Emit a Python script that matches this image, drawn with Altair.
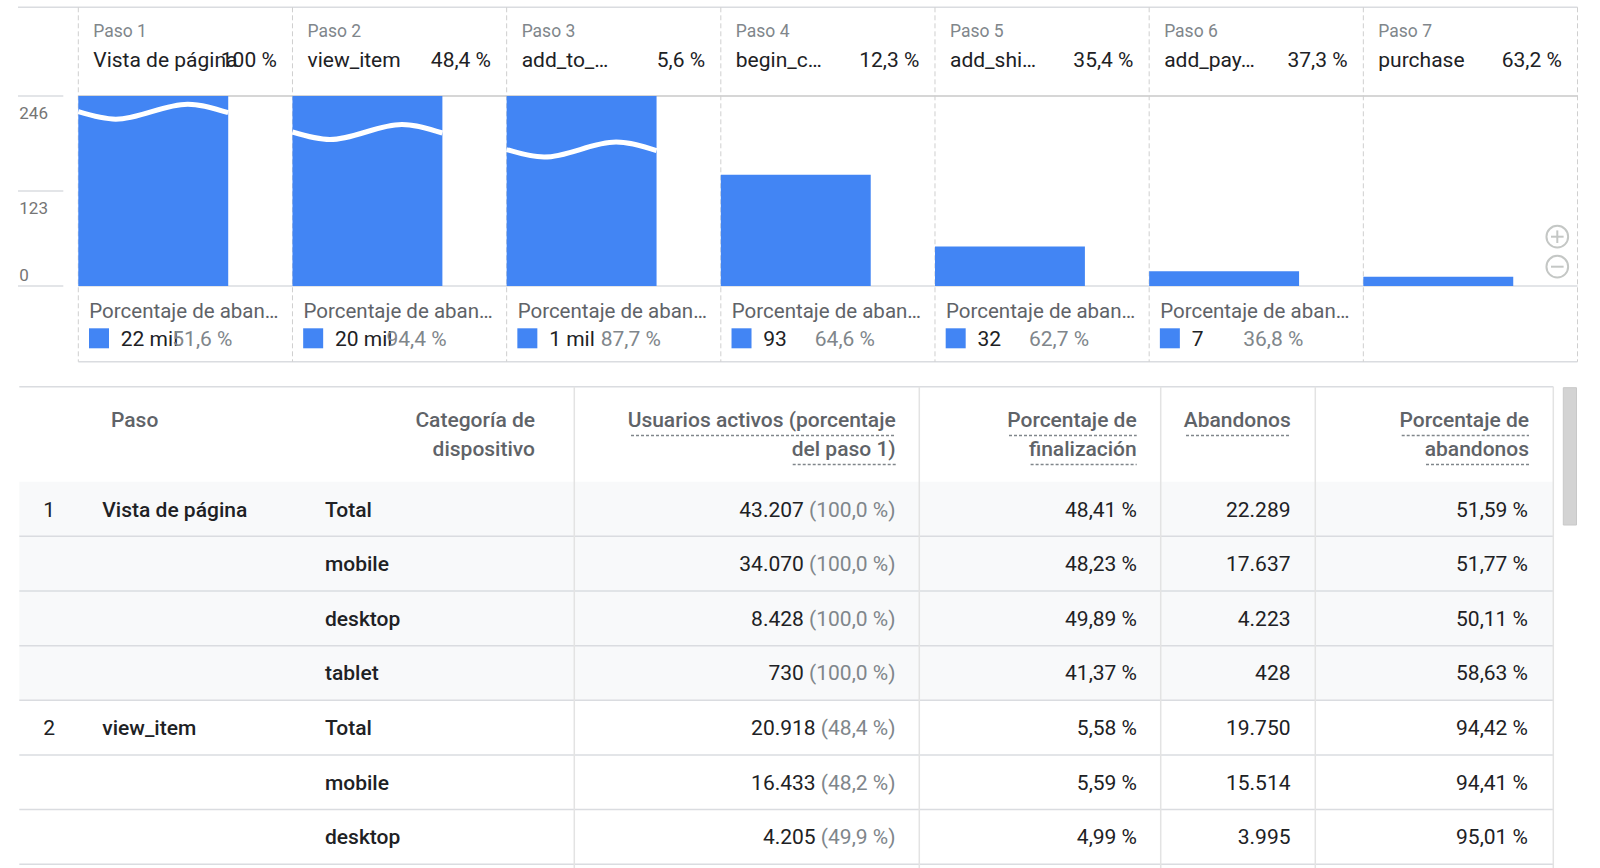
import altair as alt
import pandas as pd

# ---------------- data ----------------
STEP_LABELS = ["Paso 1", "Paso 2", "Paso 3", "Paso 4", "Paso 5", "Paso 6", "Paso 7"]
STEP_NAMES = ["Vista de página", "view_item", "add_to_…", "begin_c…", "add_shi…", "add_pay…", "purchase"]
STEP_COMPLETION = ["100 %", "48,4 %", "5,6 %", "12,3 %", "35,4 %", "37,3 %", "63,2 %"]
STEP_USERS = [43207, 20918, 1168, 144, 51, 19, 12]
ABANDON_COUNT = ["22 mil", "20 mil", "1 mil", "93", "32", "7"]
ABANDON_PCT = ["51,6 %", "94,4 %", "87,7 %", "64,6 %", "62,7 %", "36,8 %"]
FOOTER_LABEL = "Porcentaje de aban…"
Y_TICKS = [0, 123, 246]
BREAK_LEVELS = [225.7, 199.4, 176.7]          # where the axis break is drawn on bars 1-3
WAVE_T = [0.0, 0.25, 0.73, 1.0]               # shape of the break wave along a bar
WAVE_DV = [0.0, -9.7, 9.7, -1.3]

TABLE_STEP_NUM = ["1", "", "", "", "2", "", ""]
TABLE_STEP_NAME = ["Vista de página", "", "", "", "view_item", "", ""]
TABLE_DEVICE = ["Total", "mobile", "desktop", "tablet", "Total", "mobile", "desktop"]
TABLE_USERS = ["43.207", "34.070", "8.428", "730", "20.918", "16.433", "4.205"]
TABLE_USERS_PCT = ["(100,0 %)", "(100,0 %)", "(100,0 %)", "(100,0 %)", "(48,4 %)", "(48,2 %)", "(49,9 %)"]
TABLE_COMPLETION = ["48,41 %", "48,23 %", "49,89 %", "41,37 %", "5,58 %", "5,59 %", "4,99 %"]
TABLE_ABANDONS = ["22.289", "17.637", "4.223", "428", "19.750", "15.514", "3.995"]
TABLE_ABANDON_RATE = ["51,59 %", "51,77 %", "50,11 %", "58,63 %", "94,42 %", "94,41 %", "95,01 %"]
TABLE_STEP_GROUP = [1, 1, 1, 1, 2, 2, 2]

HEADER_PASO = ["Paso"]
HEADER_DEVICE = ["Categoría de", "dispositivo"]
HEADER_USERS = ["Usuarios activos (porcentaje", "del paso 1)"]
HEADER_COMPLETION = ["Porcentaje de", "finalización"]
HEADER_ABANDONS = ["Abandonos"]
HEADER_RATE = ["Porcentaje de", "abandonos"]

# ---------------- style / layout ----------------
W, H = 1600, 868
FONT = "Roboto"
INK = "#202124"
MUTED = "#5f6368"
SOFT = "#80868b"
GRID = "#dadce0"
BLUE = "#4285f4"
ROW_BG = "#f8f9fa"
BAR_FRAC = 0.70
CELL_SIZE = 21

FX = alt.Scale(domain=[0, 7], range=[78.3, 1577.5])
FY = alt.Scale(domain=[0, 246], range=[286, 96], clamp=True)
TY = alt.Scale(domain=[0, 7], range=[481.7, 481.7 + 7 * 54.65])
HY = alt.Scale(domain=[0, 1], range=[421.4, 450.4])

# approximate Roboto advance widths (em) used to place the number left of its "(xx %)" part
CHAR_EM = {**{d: 0.562 for d in "0123456789"}, ",": 0.197, ".": 0.263, "(": 0.342,
           ")": 0.348, "%": 0.733, " ": 0.248}


def text_width(s, size):
    return sum(CHAR_EM.get(c, 0.56) for c in s) * size


steps = pd.DataFrame({"i": list(range(7)), "label": STEP_LABELS, "name": STEP_NAMES,
                      "pct": STEP_COMPLETION, "users": STEP_USERS})
steps["i_end"] = steps["i"] + BAR_FRAC
steps["zero"] = 0

drops = pd.DataFrame({"i": list(range(len(ABANDON_COUNT))), "count": ABANDON_COUNT,
                      "pct": ABANDON_PCT, "label": [FOOTER_LABEL] * len(ABANDON_COUNT)})

wave_rows = []
for s, lvl in enumerate(BREAK_LEVELS):
    for t, dv in zip(WAVE_T, WAVE_DV):
        wave_rows.append({"s": s, "x": s + t * BAR_FRAC, "v": lvl + dv})
waves = pd.DataFrame(wave_rows)

ticks = pd.DataFrame({"t": Y_TICKS})
panels = pd.DataFrame({"i": list(range(8))})
one = pd.DataFrame({"k": [0]})

USERS_RIGHT = 895.5
table = pd.DataFrame({"num": TABLE_STEP_NUM, "name": TABLE_STEP_NAME, "device": TABLE_DEVICE,
                      "users": TABLE_USERS, "users_pct": TABLE_USERS_PCT,
                      "completion": TABLE_COMPLETION, "abandons": TABLE_ABANDONS,
                      "rate": TABLE_ABANDON_RATE, "grp": TABLE_STEP_GROUP})
table["row"] = list(range(len(table)))
table["row_end"] = table["row"] + 1
table["mid"] = table["row"] + 0.5
table["bg"] = [ROW_BG if g == 1 else "#ffffff" for g in table["grp"]]
table["num_right"] = [USERS_RIGHT - text_width(" " + p, CELL_SIZE) for p in table["users_pct"]]


def fx(f):
    return alt.X(f, scale=FX, axis=None)


def fy(f):
    return alt.Y(f, scale=FY, axis=None)


def hline(x1, x2, y, color=GRID, width=1.5):
    return alt.Chart(one).mark_rule(color=color, strokeWidth=width).encode(
        x=alt.value(x1), x2=alt.value(x2), y=alt.value(y))


layers = []

# ---------- table ----------
layers.append(alt.Chart(table).mark_rect().encode(
    x=alt.value(19.3), x2=alt.value(1553.3),
    y=alt.Y("row:Q", scale=TY, axis=None), y2=alt.Y2("row_end"),
    fill=alt.Fill("bg:N", scale=None)))
layers.append(alt.Chart(table).mark_rule(color=GRID, strokeWidth=1.5).encode(
    x=alt.value(19.3), x2=alt.value(1553.3), y=alt.Y("row_end:Q", scale=TY, axis=None)))
layers.append(hline(19.3, 1553.3, 386.7))
dividers = pd.DataFrame({"x": [574.3, 919.3, 1160.7, 1315.3, 1553.3]})
layers.append(alt.Chart(dividers).mark_rule(color="#e3e3e3", strokeWidth=1.5).encode(
    x=alt.X("x:Q", scale=None, axis=None), y=alt.value(386.7), y2=alt.value(868)))
layers.append(alt.Chart(one).mark_rect(fill="#d3d3d3", stroke="#c8c8c8", strokeWidth=1).encode(
    x=alt.value(1563.3), x2=alt.value(1576.5), y=alt.value(387.7), y2=alt.value(525)))


def header(lines, anchor, align):
    df = pd.DataFrame({"line": list(range(len(lines))), "text": lines})
    return alt.Chart(df).mark_text(font=FONT, fontSize=21, fontWeight=500, color=MUTED,
                                   align=align, baseline="middle").encode(
        x=alt.value(anchor), y=alt.Y("line:Q", scale=HY, axis=None), text="text:N")


layers.append(header(HEADER_PASO, 111, "left"))
layers.append(header(HEADER_DEVICE, 535, "right"))
layers.append(header(HEADER_USERS, 895.7, "right"))
layers.append(header(HEADER_COMPLETION, 1136.7, "right"))
layers.append(header(HEADER_ABANDONS, 1290.7, "right"))
layers.append(header(HEADER_RATE, 1529, "right"))

underlines = pd.DataFrame({
    "x1": [631, 792.7, 1009, 1030.6, 1186, 1401.7, 1426],
    "x2": [895.7, 895.7, 1136.7, 1136.7, 1290.7, 1529, 1529],
    "y": [435.5, 464.5, 435.5, 464.5, 435.5, 435.5, 464.5],
})
layers.append(alt.Chart(underlines).mark_rule(color=SOFT, strokeWidth=1.3, strokeDash=[3, 2]).encode(
    x=alt.X("x1:Q", scale=None, axis=None), x2=alt.X2("x2"), y=alt.Y("y:Q", scale=None, axis=None)))


def cell(field, anchor, align, color=INK, weight=400):
    return alt.Chart(table).mark_text(font=FONT, fontSize=CELL_SIZE, fontWeight=weight, color=color,
                                      align=align, baseline="middle", dy=1.5).encode(
        x=alt.value(anchor), y=alt.Y("mid:Q", scale=TY, axis=None), text=f"{field}:N")


layers.append(cell("num", 43.3, "left"))
layers.append(cell("name", 102.3, "left", weight=500))
layers.append(cell("device", 325, "left", weight=500))
layers.append(alt.Chart(table).mark_text(font=FONT, fontSize=CELL_SIZE, color=INK, align="right",
                                         baseline="middle", dy=1.5).encode(
    x=alt.X("num_right:Q", scale=None, axis=None), y=alt.Y("mid:Q", scale=TY, axis=None),
    text="users:N"))
layers.append(cell("users_pct", USERS_RIGHT, "right", color=SOFT))
layers.append(cell("completion", 1137, "right"))
layers.append(cell("abandons", 1290.5, "right"))
layers.append(cell("rate", 1528, "right"))

# ---------- funnel frame ----------
layers.append(hline(18, 1577.5, 7.3))
layers.append(hline(78.3, 1577.5, 96, color="#d6d6d6", width=2))
layers.append(hline(78.3, 1577.5, 286))
layers.append(hline(78.3, 1577.5, 361.7))
layers.append(alt.Chart(panels).mark_rule(color="#cfcfcf", strokeWidth=1, strokeDash=[5, 3]).encode(
    x=fx("i:Q"), y=alt.value(7.3), y2=alt.value(361.7)))
layers.append(alt.Chart(ticks).mark_rule(color=GRID, strokeWidth=1.5).encode(
    x=alt.value(18), x2=alt.value(63.3), y=fy("t:Q")))
layers.append(alt.Chart(ticks).transform_filter("datum.t > 0").mark_text(
    font=FONT, fontSize=17, color="#757575", align="left", baseline="middle", dy=18).encode(
    x=alt.value(19.3), y=fy("t:Q"), text="t:N"))
layers.append(alt.Chart(ticks).transform_filter("datum.t == 0").mark_text(
    font=FONT, fontSize=17, color="#757575", align="left", baseline="middle", dy=-10).encode(
    x=alt.value(19.3), y=fy("t:Q"), text="t:N"))

# ---------- bars ----------
layers.append(alt.Chart(steps).mark_bar(color=BLUE).encode(
    x=fx("i:Q"), x2=alt.X2("i_end"), y=fy("users:Q"), y2=alt.Y2("zero")))
layers.append(alt.Chart(waves).mark_line(color="white", strokeWidth=5, interpolate="monotone",
                                         strokeCap="butt").encode(
    x=fx("x:Q"), y=fy("v:Q"), detail="s:N"))

# ---------- funnel texts ----------
layers.append(alt.Chart(steps).mark_text(font=FONT, fontSize=17.5, color=SOFT, align="left",
                                         baseline="middle", dx=15).encode(
    x=fx("i:Q"), y=alt.value(32), text="label:N"))
layers.append(alt.Chart(steps).mark_text(font=FONT, fontSize=21, color=INK, align="left",
                                         baseline="middle", dx=15).encode(
    x=fx("i:Q"), y=alt.value(60.5), text="name:N"))
layers.append(alt.Chart(steps).mark_text(font=FONT, fontSize=21, color=INK, align="right",
                                         baseline="middle", dx=198.5).encode(
    x=fx("i:Q"), y=alt.value(60.5), text="pct:N"))
layers.append(alt.Chart(drops).mark_text(font=FONT, fontSize=20.5, color=MUTED, align="left",
                                         baseline="middle", dx=11).encode(
    x=fx("i:Q"), y=alt.value(312), text="label:N"))
layers.append(alt.Chart(drops).mark_square(color=BLUE, size=400, opacity=1, xOffset=20.7).encode(
    x=fx("i:Q"), y=alt.value(338.3)))
layers.append(alt.Chart(drops).mark_text(font=FONT, fontSize=21, color=INK, align="left",
                                         baseline="middle", dx=42.5).encode(
    x=fx("i:Q"), y=alt.value(340.3), text="count:N"))
layers.append(alt.Chart(drops).mark_text(font=FONT, fontSize=21, color=SOFT, align="left",
                                         baseline="middle", dx=94).encode(
    x=fx("i:Q"), y=alt.value(340.3), text="pct:N"))

# ---------- zoom controls ----------
icons = pd.DataFrame({"y": [236.7, 266.7]})
layers.append(alt.Chart(icons).mark_point(shape="circle", filled=False, size=470, strokeWidth=2,
                                          color="#c4c7c5", opacity=1).encode(
    x=alt.value(1557.3), y=alt.Y("y:Q", scale=None, axis=None)))
strokes = pd.DataFrame({"x1": [1551, 1557.3, 1551], "x2": [1563.6, 1557.3, 1563.6],
                        "y1": [236.7, 230.4, 266.7], "y2": [236.7, 243, 266.7]})
layers.append(alt.Chart(strokes).mark_rule(color="#c4c7c5", strokeWidth=2).encode(
    x=alt.X("x1:Q", scale=None, axis=None), x2=alt.X2("x2"),
    y=alt.Y("y1:Q", scale=None, axis=None), y2=alt.Y2("y2")))

chart = alt.layer(*layers).resolve_scale(x="independent", y="independent").properties(
    width=W, height=H, padding=0, autosize=alt.AutoSizeParams(type="none"), background="white"
).configure_view(strokeWidth=0)

chart.save("out.html", embed_options={"renderer": "svg", "actions": False})
